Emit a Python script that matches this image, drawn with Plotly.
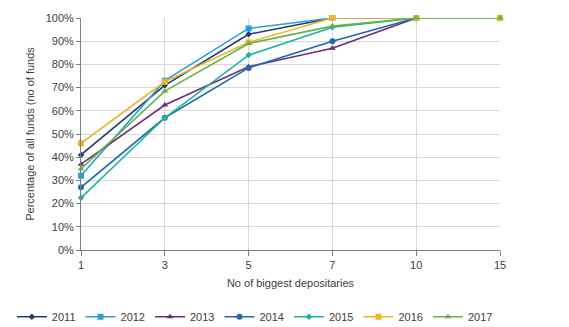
import plotly.graph_objects as go

# Number of biggest depositaries (categorical x axis)
depositaries = ["1", "3", "5", "7", "10", "15"]

# Cumulative share of all funds held by the N biggest depositaries
share_2011 = [0.41, 0.71, 0.93, 1.00, 1.00, 1.00]
share_2012 = [0.32, 0.73, 0.955, 1.00, 1.00, 1.00]
share_2013 = [0.37, 0.625, 0.79, 0.87, 1.00, 1.00]
share_2014 = [0.27, 0.57, 0.785, 0.90, 1.00, 1.00]
share_2015 = [0.225, 0.57, 0.84, 0.96, 1.00, 1.00]
share_2016 = [0.46, 0.725, 0.895, 1.00, 1.00, 1.00]
share_2017 = [0.35, 0.685, 0.89, 0.965, 1.00, 1.00]

series = [
    ("2011", share_2011, "#1f3d73", "diamond", 5),
    ("2012", share_2012, "#2aa0d8", "square", 6),
    ("2013", share_2013, "#6a2d7c", "triangle-up", 6),
    ("2014", share_2014, "#2367b3", "circle", 6),
    ("2015", share_2015, "#1db3a0", "diamond", 5),
    ("2016", share_2016, "#edb52a", "square", 6),
    ("2017", share_2017, "#63b345", "triangle-up", 6),
]

fig = go.Figure()
for name, vals, color, symbol, size in series:
    fig.add_trace(go.Scatter(
        x=depositaries, y=vals, name=name, mode="lines+markers",
        line=dict(color=color, width=1.6),
        marker=dict(color=color, symbol=symbol, size=size),
        cliponaxis=False,
    ))

font = "Liberation Sans, Arial, sans-serif"
fig.update_layout(
    width=569, height=327,
    margin=dict(l=81, r=69, t=18, b=77, autoexpand=False),
    paper_bgcolor="white", plot_bgcolor="white",
    font=dict(family=font, size=11, color="#404040"),
    showlegend=True,
    legend=dict(
        orientation="h", x=-0.165, xanchor="left", y=-0.225, yanchor="top",
        font=dict(size=11, color="#404040"),
        itemwidth=30, tracegroupgap=0,
        bgcolor="rgba(0,0,0,0)",
    ),
    xaxis=dict(
        type="category", range=[0, 5],
        showgrid=True, gridcolor="#d9d9d9", gridwidth=1,
        showline=True, linecolor="#7f7f7f", linewidth=1,
        ticks="outside", ticklen=5, tickcolor="#7f7f7f",
        tickfont=dict(size=11, color="#404040"),
        title=dict(text="No of biggest depositaries", standoff=9,
                   font=dict(size=11, color="#404040")),
    ),
    yaxis=dict(
        range=[0, 1], dtick=0.1, tickformat=".0%",
        showgrid=True, gridcolor="#d9d9d9", gridwidth=1,
        showline=True, linecolor="#7f7f7f", linewidth=1,
        ticks="outside", ticklen=4, tickcolor="#7f7f7f",
        tickfont=dict(size=11, color="#404040"),
        zeroline=False,
        title=dict(text="Percentage of all funds (no of funds", standoff=8,
                   font=dict(size=11, color="#404040")),
    ),
)

fig.write_html("out.html")
